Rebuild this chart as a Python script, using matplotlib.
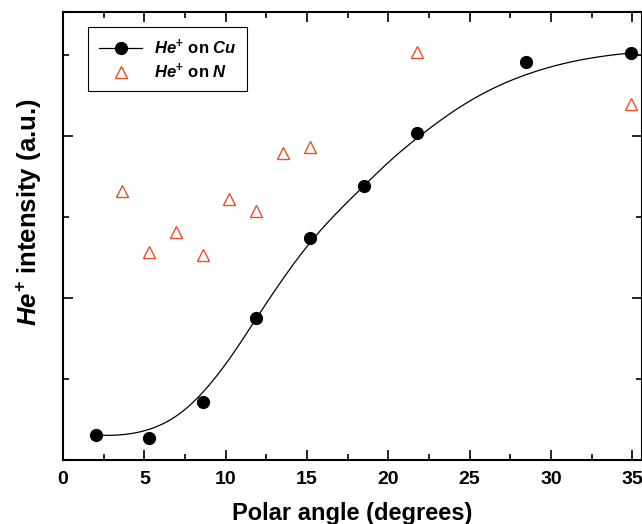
import numpy as np
import matplotlib
matplotlib.use('Agg')
import matplotlib.pyplot as plt
from matplotlib.ticker import MultipleLocator

plt.rcParams['font.family'] = ['Liberation Sans', 'DejaVu Sans']
plt.rcParams['font.weight'] = 'bold'
plt.rcParams['mathtext.fontset'] = 'custom'
plt.rcParams['mathtext.it'] = 'Liberation Sans:italic:bold'
plt.rcParams['mathtext.rm'] = 'Liberation Sans:bold'
plt.rcParams['mathtext.bf'] = 'Liberation Sans:bold'

# He+ on Cu
cu_angle = [2.03, 5.29, 8.61, 11.87, 15.19, 18.51, 21.77, 28.47, 34.93]
cu_int = [0.154, 0.136, 0.358, 0.877, 1.370, 1.691, 2.019, 2.457, 2.512]
# He+ on N
n_angle = [3.63, 5.29, 6.95, 8.61, 10.21, 11.87, 13.53, 15.19, 21.77, 34.93]
n_int = [1.660, 1.284, 1.407, 1.265, 1.611, 1.537, 1.895, 1.932, 2.519, 2.198]


def basis(i, k, t, knots):
    # Cox-de Boor recursion
    if k == 0:
        last = knots[i + 1] == knots[-1] and knots[i] < knots[i + 1]
        hi = (t <= knots[i + 1]) if last else (t < knots[i + 1])
        return ((t >= knots[i]) & hi).astype(float)
    out = np.zeros_like(t)
    d1 = knots[i + k] - knots[i]
    d2 = knots[i + k + 1] - knots[i + 1]
    if d1 > 0:
        out += (t - knots[i]) / d1 * basis(i, k - 1, t, knots)
    if d2 > 0:
        out += (knots[i + k + 1] - t) / d2 * basis(i + 1, k - 1, t, knots)
    return out


def bspline(px, py, deg=3, num=400):
    n = len(px)
    knots = np.concatenate([np.zeros(deg), np.arange(n - deg + 1), np.full(deg, n - deg)]).astype(float)
    t = np.linspace(0, n - deg, num)
    bx = np.zeros(num)
    by = np.zeros(num)
    for i in range(n):
        b = basis(i, deg, t, knots)
        bx += b * px[i]
        by += b * py[i]
    return bx, by


fig = plt.figure(figsize=(6.42, 5.24), dpi=100)
ax = fig.add_axes([63/642, 64/524, 579/642, 448/524])

# B-spline through the Cu points
sx, sy = bspline(cu_angle, cu_int)
ax.plot(sx, sy, color='black', lw=0.9)

ax.plot(cu_angle, cu_int, 'o', color='black', ms=8.5, ls='none')
ax.plot(n_angle, n_int, '^', mfc='none', mec='#f04e23', mew=1.0, ms=9, ls='none')

# legend handles
h1, = ax.plot([], [], color='black', lw=0.9, marker='o', ms=8.5)
h2, = ax.plot([], [], ls='none', marker='^', mfc='none', mec='#f04e23', mew=1.0, ms=9)
leg = ax.legend([h1, h2], [r'$He^{+}$ on $Cu$', r'$He^{+}$ on $N$'],
                loc='upper left', bbox_to_anchor=(25/579, (460-27)/448), borderaxespad=0,
                fontsize=12, fancybox=False, edgecolor='black', framealpha=1,
                handlelength=2.6, handletextpad=0.7, borderpad=0.65, labelspacing=0.25)
leg.get_frame().set_linewidth(0.8)

ax.set_xlim(0, 35.6)
ax.set_ylim(0, 448/162)
ax.xaxis.set_major_locator(MultipleLocator(5))
ax.xaxis.set_minor_locator(MultipleLocator(2.5))
ax.yaxis.set_major_locator(MultipleLocator(1))
ax.yaxis.set_minor_locator(MultipleLocator(0.5))
ax.tick_params(which='both', direction='in', top=True, right=True, width=1.2)
ax.tick_params(which='major', length=7, labelsize=14, pad=8)
ax.tick_params(which='minor', length=4)
ax.tick_params(axis='y', which='both', labelleft=False)
for s in ax.spines.values():
    s.set_linewidth(1.5)

ax.set_xlabel('Polar angle (degrees)', fontsize=17, fontweight='bold', labelpad=10)
ax.set_ylabel(r'$He^{+}$ intensity (a.u.)', fontsize=18.5, fontweight='bold')
ax.yaxis.set_label_coords(-0.033, (460-212)/448)

fig.savefig('out.png', dpi=100)
